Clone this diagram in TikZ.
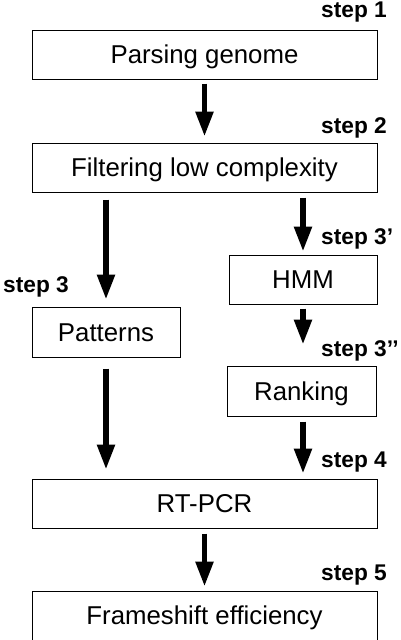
\documentclass[tikz,border=0pt]{standalone}
\usepackage{fontspec}
\setmainfont{Liberation Sans}
\usetikzlibrary{arrows.meta}
\begin{document}
\begin{tikzpicture}[x=1pt,y=-1pt,
  box/.style={draw=black, line width=1pt, minimum height=49pt, text height=18.5pt, text depth=0pt, inner sep=0pt, font=\fontsize{25.8}{28}\selectfont},
  steplbl/.style={anchor=base west, inner sep=0pt, font=\fontsize{22.7}{24}\selectfont\bfseries},
  flow/.style={line width=5.5pt, -{Triangle[width=17pt,length=25pt]}}]
\useasboundingbox (0,0) rectangle (401,640);
\node[box, minimum width=345pt] (b1) at (204.5,54.5) {Parsing genome};
\node[box, minimum width=345pt] (b2) at (204.5,167.5) {Filtering low complexity};
\node[box, minimum width=148pt, minimum height=50pt] (pat) at (106,332) {Patterns};
\node[box, minimum width=148pt] (hmm) at (303,279.5) {HMM};
\node[box, minimum width=149pt, minimum height=50pt] (rank) at (301.5,391) {Ranking};
\node[box, minimum width=345pt] (rt) at (204.5,503.5) {RT-PCR};
\node[box, minimum width=345pt] (fs) at (204.5,615.5) {Frameshift efficiency};

\node[steplbl] (s1) at (321,17) {step 1};
\node[steplbl] (s2) at (321,133) {step 2};
\node[steplbl] (s3p) at (321,244) {step 3’};
\node[steplbl] (s3) at (3,292) {step 3};
\node[steplbl] (s3pp) at (321,356) {step 3’’};
\node[steplbl] (s4) at (321,467) {step 4};
\node[steplbl] (s5) at (321,580) {step 5};

\draw[flow, shorten <=4pt, shorten >=6pt] (b1.south) -- (b2.north);
\draw[flow, shorten <=7pt, shorten >=7pt] (b2.south -| pat.north) -- (pat.north);
\draw[flow, shorten <=5pt, shorten >=3pt] (b2.south -| hmm.north) -- (hmm.north);
\draw[flow, shorten <=4pt, shorten >=21pt] (hmm.south) -- (hmm.south |- rank.north);
\draw[flow, shorten <=11pt, shorten >=9pt] (pat.south) -- (pat.south |- rt.north);
\draw[flow, shorten <=5pt, shorten >=5pt] (hmm.south |- rank.south) -- (hmm.south |- rt.north);
\draw[flow, shorten <=5pt, shorten >=4pt] (rt.south) -- (fs.north);
\end{tikzpicture}
\end{document}
